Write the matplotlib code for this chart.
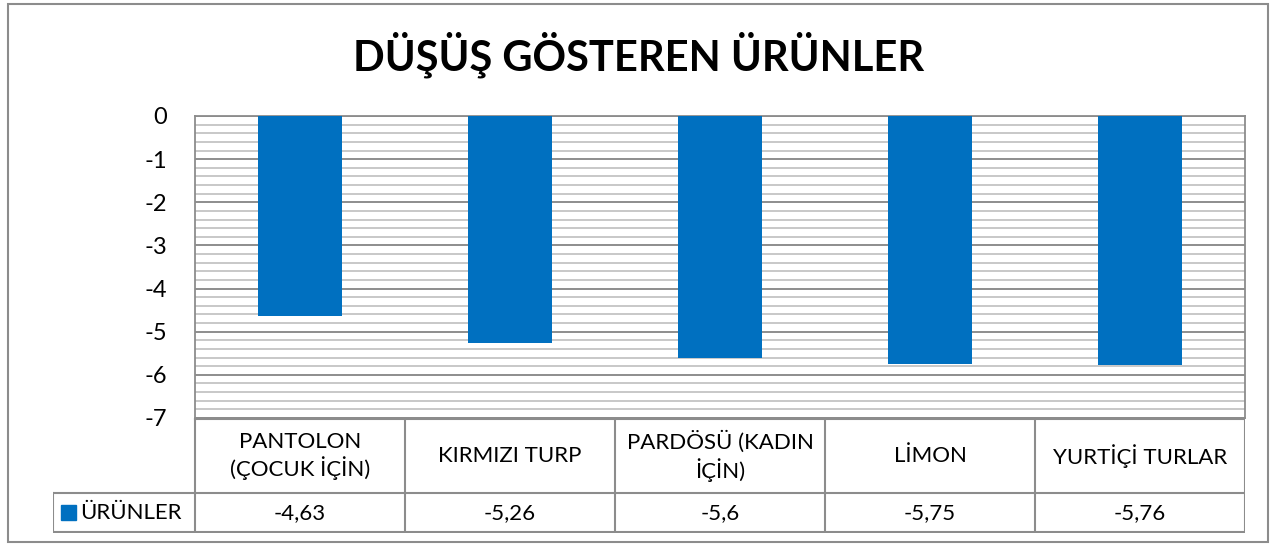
import numpy as np
import matplotlib.pyplot as plt
from matplotlib.ticker import MultipleLocator

categories = ["PANTOLON\n(ÇOCUK İÇİN)", "KIRMIZI TURP", "PARDÖSÜ (KADIN\nİÇİN)", "LİMON", "YURTİÇİ TURLAR"]
values = [-4.63, -5.26, -5.6, -5.75, -5.76]
value_labels = ["-4,63", "-5,26", "-5,6", "-5,75", "-5,76"]
series_name = "ÜRÜNLER"
title = "DÜŞÜŞ GÖSTEREN ÜRÜNLER"

plt.rcParams["font.family"] = ["Lato", "DejaVu Sans"]

W, H = 1277, 547
fig = plt.figure(figsize=(W / 100, H / 100), dpi=100)

def px_rect(x0, y0, x1, y1):
    return [x0 / W, 1 - y1 / H, (x1 - x0) / W, (y1 - y0) / H]

# outer chart frame
frame = fig.add_axes([0, 0, 1, 1])
frame.set_xlim(0, W)
frame.set_ylim(H, 0)
frame.axis("off")
frame.add_patch(plt.Rectangle((8, 4), 1260, 538, fill=False, ec="#8c8c8c", lw=1.5))

fig.text(0.5, 1 - 55 / H, title, ha="center", va="center", fontsize=30, fontweight="bold")

# main plot
ax = fig.add_axes(px_rect(195, 116, 1245, 418))
x = np.arange(len(values))
ax.bar(x, values, width=0.4, color="#0070c0", zorder=3)
ax.set_xlim(-0.5, len(values) - 0.5)
ax.set_ylim(-7, 0)
ax.yaxis.set_major_locator(MultipleLocator(1))
ax.yaxis.set_minor_locator(MultipleLocator(0.2))
ax.grid(axis="y", which="minor", color="#c4c4c4", lw=1.3, zorder=0)
ax.grid(axis="y", which="major", color="#858585", lw=1.3, zorder=1)
ax.set_xticks([])
ax.tick_params(axis="y", which="both", length=0, labelsize=17, pad=20)
ax.set_yticks(range(-7, 1))
ax.set_yticklabels([str(v) for v in range(-7, 1)])
for s in ax.spines.values():
    s.set_color("#8c8c8c")
    s.set_linewidth(1.3)

# data table below the plot
x_left = -0.5 - (195 - 53) / 210
tb = fig.add_axes(px_rect(53, 418, 1245, 533))
tb.set_xlim(x_left, len(values) - 0.5)
tb.set_ylim(533, 418)
tb.axis("off")
lc = "#8c8c8c"
tb.plot([-0.5, len(values) - 0.5], [419, 419], color=lc, lw=1.5)
tb.plot([x_left, len(values) - 0.5], [493, 493], color=lc, lw=1.5)
tb.plot([x_left, len(values) - 0.5], [532, 532], color=lc, lw=1.5)
tb.plot([x_left, x_left], [493, 532], color=lc, lw=1.5)
for i in range(len(values) + 1):
    tb.plot([i - 0.5, i - 0.5], [419, 532], color=lc, lw=1.5)
for i, (c, v) in enumerate(zip(categories, value_labels)):
    tb.text(i, 456, c, ha="center", va="center", fontsize=16, linespacing=1.25)
    tb.text(i, 513, v, ha="center", va="center", fontsize=16)
# legend key
tb.add_patch(plt.Rectangle((x_left + 0.04, 505), 0.07, 15, color="#0070c0"))
tb.text(x_left + 0.13, 513, series_name, ha="left", va="center", fontsize=16)

fig.savefig("out.png", dpi=100)
